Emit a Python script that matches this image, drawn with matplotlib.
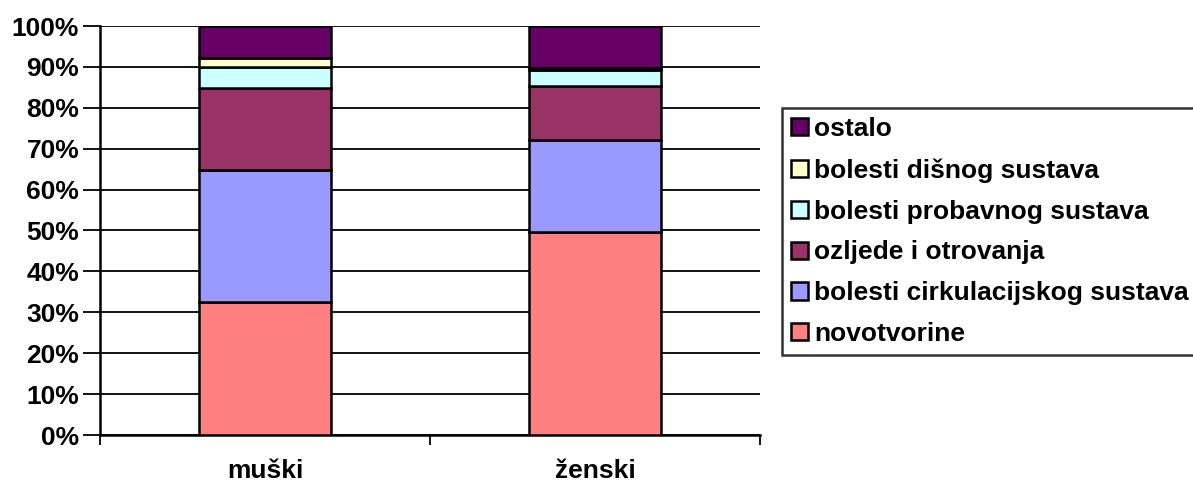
import matplotlib
matplotlib.use("Agg")
import matplotlib.pyplot as plt
from matplotlib.patches import Patch
import numpy as np

categories = ["muški", "ženski"]
series_names = ["novotvorine", "bolesti cirkulacijskog sustava", "ozljede i otrovanja",
                "bolesti probavnog sustava", "bolesti dišnog sustava", "ostalo"]
novotvorine = [32.5, 49.7]
cirkulacijski = [32.3, 22.4]
ozljede = [20.0, 13.2]
probavni = [5.2, 3.9]
disni = [2.2, 0.5]
ostalo = [7.8, 10.3]
colors = ["#FF8080", "#9999FF", "#993366", "#CCFFFF", "#FFFFCC", "#660066"]
yticks = [0, 10, 20, 30, 40, 50, 60, 70, 80, 90, 100]

plt.rcParams['font.family'] = ['Liberation Sans', 'DejaVu Sans']
FS = 19
fig = plt.figure(figsize=(11.93, 4.86), dpi=100)
ax = fig.add_axes([100/1193, 1-435/486, 660/1193, 409/486])

data = [novotvorine, cirkulacijski, ozljede, probavni, disni, ostalo]
x = np.arange(len(categories))
bottom = np.zeros(len(categories))
for vals, c in zip(data, colors):
    ax.bar(x, vals, 0.4, bottom=bottom, color=c, edgecolor="black", linewidth=1.8, zorder=3)
    bottom += np.array(vals)

ax.set_xlim(-0.5, 1.5)
ax.set_ylim(0, 100)
ax.set_yticks(yticks)
ax.set_yticklabels([f"{v}%" for v in yticks], fontsize=FS, fontweight="bold")
ax.yaxis.grid(True, color="black", linewidth=1.3, zorder=0)
ax.set_xticks(x)
ax.set_xticklabels(categories, fontsize=FS, fontweight="bold")
ax.tick_params(axis="x", length=0, pad=17)
ax.set_xticks([-0.5, 0.5, 1.5], minor=True)
ax.tick_params(axis="x", which="minor", length=7, width=1.3, direction="out")
ax.tick_params(axis="y", length=12, width=1.3, direction="out", pad=3)
for s in ["top", "right"]:
    ax.spines[s].set_visible(False)
ax.spines["left"].set_linewidth(1.8)
ax.spines["bottom"].set_linewidth(1.8)

handles = [Patch(facecolor=c, edgecolor="black", linewidth=1.8) for c in colors]
leg = fig.legend(handles[::-1], series_names[::-1], loc="upper left",
                 bbox_to_anchor=(782/1193, 1-108/486), prop={"weight": "bold", "size": FS},
                 frameon=True, fancybox=False, edgecolor="black", handlelength=0.62,
                 handleheight=0.62, handletextpad=0.25, labelspacing=0.64, borderpad=0.35,
                 borderaxespad=0)
leg.get_frame().set_linewidth(1.8)

fig.savefig("out.png", dpi=100)
